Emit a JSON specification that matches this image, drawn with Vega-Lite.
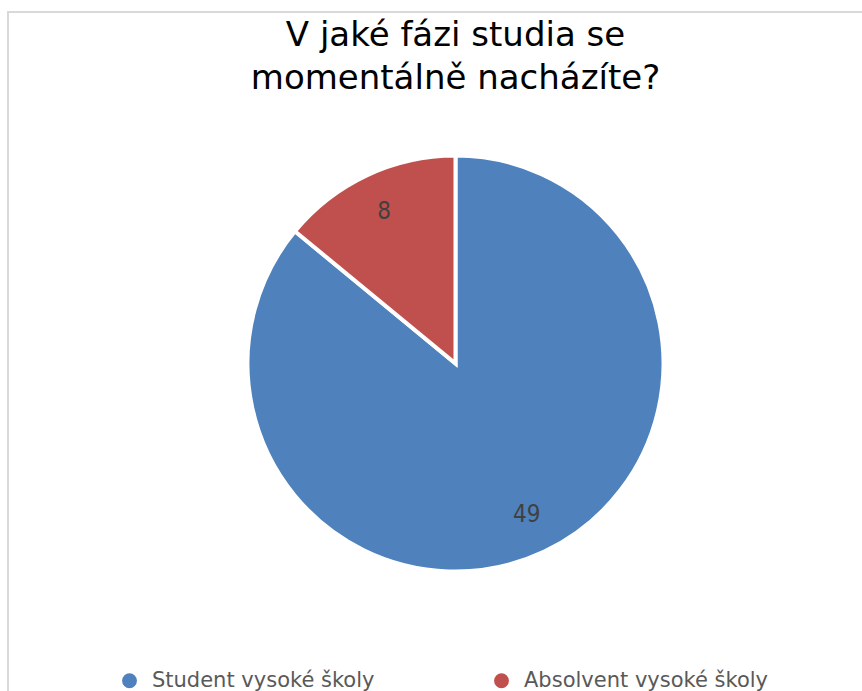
{
  "$schema": "https://vega.github.io/schema/vega-lite/v6.json",
  "autosize": {"type": "fit", "contains": "padding"},
  "width": 862,
  "height": 691,
  "padding": {"left": 8, "top": 12, "right": -41, "bottom": -24},
  "background": "white",
  "view": {"stroke": "#d9d9d9", "strokeWidth": 2, "fill": "white"},
  "title": {
    "text": ["V jaké fázi studia se", "momentálně nacházíte?"],
    "font": "DejaVu Sans",
    "fontSize": 34,
    "fontWeight": "normal",
    "color": "#000000",
    "anchor": "middle",
    "frame": "group",
    "offset": -84,
    "lineHeight": 43
  },
  "data": {
    "values": [
      {"stage": "Student vysoké školy", "count": 49, "order": 1},
      {"stage": "Absolvent vysoké školy", "count": 8, "order": 2}
    ]
  },
  "encoding": {
    "theta": {"field": "count", "type": "quantitative", "stack": true},
    "order": {"field": "order", "type": "quantitative"}
  },
  "layer": [
    {
      "mark": {"type": "arc", "outerRadius": 208, "stroke": "white", "strokeWidth": 4},
      "encoding": {
        "color": {
          "field": "stage",
          "type": "nominal",
          "scale": {
            "domain": ["Student vysoké školy", "Absolvent vysoké školy"],
            "range": ["#4F81BD", "#C0504D"]
          },
          "legend": {
            "orient": "none",
            "legendX": 111,
            "legendY": 658,
            "direction": "horizontal",
            "columns": 2,
            "title": null,
            "symbolType": "circle",
            "symbolSize": 220,
            "symbolStrokeWidth": 0,
            "labelFont": "DejaVu Sans",
            "labelFontSize": 21,
            "labelColor": "#595959",
            "labelOffset": 12,
            "columnPadding": 116,
            "labelLimit": 400
          }
        }
      }
    },
    {
      "mark": {"type": "text", "radius": 167, "font": "DejaVu Sans Condensed", "fontSize": 24, "fill": "#404040"},
      "encoding": {"text": {"field": "count", "type": "quantitative"}}
    }
  ]
}
